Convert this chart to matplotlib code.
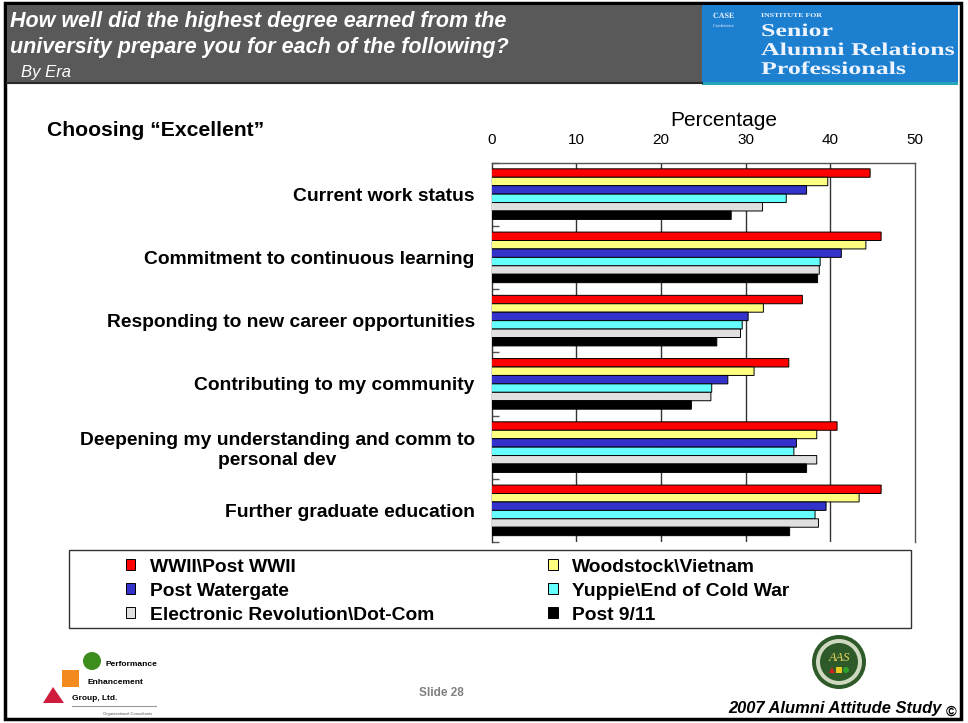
import matplotlib
matplotlib.use("Agg")
import matplotlib.pyplot as plt
import numpy as np
from matplotlib.patches import Rectangle, Circle, Polygon, PathPatch
from matplotlib.textpath import TextPath
from matplotlib.font_manager import FontProperties
from matplotlib.transforms import Affine2D

# ---- data -------------------------------------------------------------
categories = [
    "Current work status",
    "Commitment to continuous learning",
    "Responding to new career opportunities",
    "Contributing to my community",
    "Deepening my understanding and comm to\npersonal dev",
    "Further graduate education",
]
series_names = [
    "WWII\\Post WWII",
    "Woodstock\\Vietnam",
    "Post Watergate",
    "Yuppie\\End of Cold War",
    "Electronic Revolution\\Dot-Com",
    "Post 9/11",
]
wwii = [44.7, 46.0, 36.7, 35.1, 40.8, 46.0]
woodstock = [39.7, 44.2, 32.1, 31.0, 38.4, 43.4]
watergate = [37.2, 41.3, 30.3, 27.9, 36.0, 39.5]
yuppie = [34.8, 38.8, 29.6, 26.0, 35.7, 38.2]
dotcom = [32.0, 38.7, 29.4, 25.9, 38.4, 38.6]
post911 = [28.3, 38.5, 26.6, 23.6, 37.2, 35.2]
x_ticks = [0, 10, 20, 30, 40, 50]

series_values = [wwii, woodstock, watergate, yuppie, dotcom, post911]
colors = ["#FF0000", "#FFFF80", "#3333CC", "#66FFFF", "#E0E0E0", "#000000"]

plt.rcParams["font.family"] = ["Liberation Sans", "DejaVu Sans"]

W, H = 968, 723
fig = plt.figure(figsize=(W / 100, H / 100), dpi=100)
fig.patch.set_facecolor("white")

# ---- decoration layer in pixel coordinates ----------------------------
deco = fig.add_axes([0, 0, 1, 1], zorder=0)
deco.set_xlim(0, W)
deco.set_ylim(H, 0)
deco.axis("off")

# slide frame
deco.add_patch(Rectangle((5, 3), 956, 716, fill=False, ec="black", lw=2.5))
# header band
deco.add_patch(Rectangle((7, 5), 695, 77, fc="#595959", ec="none"))
deco.plot([7, 702], [82.5, 82.5], color="#2a2a2a", lw=1.5)
deco.text(10, 21, "How well did the highest degree earned from the",
          color="white", fontsize=15.5, fontweight="bold", style="italic",
          va="center", ha="left")
deco.text(10, 48, "university prepare you for each of the following?",
          color="white", fontsize=15.5, fontweight="bold", style="italic",
          va="center", ha="left")
deco.text(21, 73, "By Era", color="white", fontsize=12, style="italic",
          va="center", ha="left")

# institute logo block
deco.add_patch(Rectangle((702, 5), 256, 79, fc="#1c7fd0", ec="none"))
deco.add_patch(Rectangle((702, 82), 256, 3, fc="#23a7b8", ec="none"))


def stretched_text(s, x, y, size, sx=1.0, family="Liberation Serif",
                   weight="normal", color="#eef4ff"):
    tp = TextPath((0, 0), s, size=size,
                  prop=FontProperties(family=family, weight=weight))
    tr = Affine2D().scale(sx, -1).translate(x, y) + deco.transData
    deco.add_patch(PathPatch(tp, transform=tr, fc=color, ec="none"))


stretched_text("CASE", 713, 18, 8, sx=1.0, weight="bold")
stretched_text("Conference", 713, 27, 4.5, sx=1.0)
stretched_text("INSTITUTE FOR", 761, 17, 6, sx=1.3, weight="bold")
stretched_text("Senior", 761, 36, 18, sx=1.44, weight="bold")
stretched_text("Alumni Relations", 761, 55, 18, sx=1.44, weight="bold")
stretched_text("Professionals", 761, 74, 18, sx=1.44, weight="bold")

# chart subtitle
deco.text(47, 131, "Choosing \u201cExcellent\u201d", fontsize=15.2,
          fontweight="bold", va="center", ha="left")

# ---- bar chart ---------------------------------------------------------
ax_l, ax_r, ax_t, ax_b = 491.5, 915, 162.5, 542
ax_h = ax_b - ax_t
ax = fig.add_axes([ax_l / W, 1 - ax_b / H, (ax_r - ax_l) / W, ax_h / H],
                  zorder=2)
ax.set_facecolor("none")

h = 1.0 / 7.5
pad = 0.75 * h
group_pos = np.arange(len(categories))
for j, (vals, col) in enumerate(zip(series_values, colors)):
    y = group_pos + pad + (j + 0.5) * h
    ax.barh(y, vals, height=h, color=col, edgecolor="black", linewidth=0.7,
            label=series_names[j], zorder=3, snap=False)

ax.set_xlim(0, 50)
ax.set_ylim(len(categories), 0)
ax.set_xticks(x_ticks)
ax.xaxis.tick_top()
ax.xaxis.set_label_position("top")
ax.set_xlabel("Percentage", fontsize=15)
ax.xaxis.label.set_va("center")
ax.xaxis.set_label_coords((724 - ax_l) / (ax_r - ax_l), 1 + (ax_t - 120) / ax_h)
ax.tick_params(axis="x", length=0, pad=11, labelsize=11)

ax.set_yticks(group_pos + 0.5)
ax.set_yticklabels(categories, fontsize=13.9, fontweight="bold",
                   multialignment="center")
ax.tick_params(axis="y", which="major", length=0, pad=12)
ax.set_yticks(np.arange(len(categories) + 1), minor=True)
ax.tick_params(axis="y", which="minor", direction="in", length=5,
               width=1, color="#555555")

for v in x_ticks[1:-1]:
    ax.axvline(v, color="#333333", lw=1, zorder=1)
ax.spines["bottom"].set_visible(False)
ax.spines["top"].set_color("#555555")
ax.spines["right"].set_color("#555555")
ax.spines["left"].set_color("#333333")
for s in ax.spines.values():
    s.set_linewidth(1)

# ---- legend -------------------------------------------------------------
deco.add_patch(Rectangle((69, 550), 842, 78, fill=False, ec="#333333", lw=1))
handles, labels = ax.get_legend_handles_labels()
order = [0, 2, 4, 1, 3, 5]
leg = fig.legend([handles[i] for i in order], [labels[i] for i in order],
                 ncol=2, frameon=False, loc="upper left",
                 bbox_to_anchor=(118 / W, 1 - 551 / H),
                 prop=FontProperties(family="Liberation Sans", weight="bold",
                                     size=13.9),
                 handlelength=0.5, handleheight=0.5, handletextpad=0.75,
                 columnspacing=5.9, labelspacing=0.36, borderaxespad=0)

# ---- footer -------------------------------------------------------------
deco.text(441, 693, "Slide 28", fontsize=8.5, fontweight="bold",
          color="#808080", ha="center", va="center")
deco.text(728, 708, "2007 Alumni Attitude Study", fontsize=11.9,
          fontweight="bold", style="italic", ha="left", va="center")
deco.text(951, 712, "\u00a9", fontsize=10.5, fontweight="bold",
          ha="center", va="center")

# performance group logo
deco.add_patch(Circle((92, 661), 9, fc="#3c8c1e", ec="none"))
deco.add_patch(Rectangle((62, 670), 17, 17, fc="#f28a1e", ec="none"))
deco.add_patch(Polygon([[43, 703], [53, 687], [64, 703]], closed=True,
                       fc="#d01c3c", ec="none"))
deco.text(105, 665, "Performance", fontsize=6, fontweight="bold",
          ha="left", va="center")
deco.text(88, 682, "Enhancement", fontsize=6, fontweight="bold",
          ha="left", va="center")
deco.text(72, 698, "Group, Ltd.", fontsize=6, fontweight="bold",
          ha="left", va="center")
deco.plot([72, 156], [706, 706], color="#999999", lw=0.8)
deco.text(128, 714, "Organizational Consultants", fontsize=3, color="#555555",
          ha="center", va="center")

# alumni attitude study seal
cx, cy = 839, 662
deco.add_patch(Circle((cx, cy), 27, fc="#2e5a2a", ec="none"))
deco.add_patch(Circle((cx, cy), 23, fc="#cfd9c0", ec="none"))
deco.add_patch(Circle((cx, cy), 19, fc="#2e5a2a", ec="none"))
deco.text(cx, cy - 4, "AAS", family="Liberation Serif", style="italic",
          fontsize=9, color="#e8d860", ha="center", va="center")
deco.add_patch(Polygon([[cx - 10, cy + 11], [cx - 7, cy + 5], [cx - 4, cy + 11]],
                       closed=True, fc="#d02020", ec="none"))
deco.add_patch(Rectangle((cx - 3, cy + 5), 6, 6, fc="#e8c820", ec="none"))
deco.add_patch(Circle((cx + 7, cy + 8), 3, fc="#30a030", ec="none"))

fig.savefig("out.png", dpi=100)
